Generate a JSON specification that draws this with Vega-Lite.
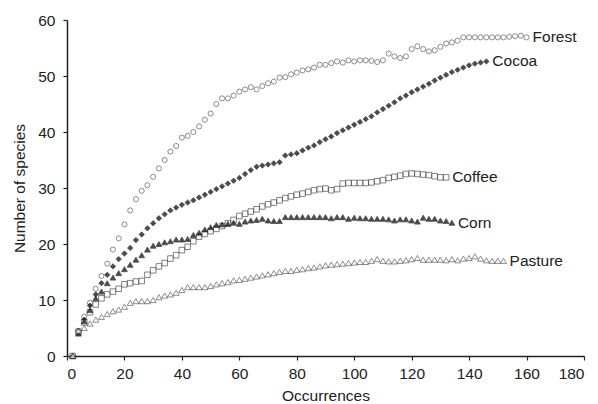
{
  "$schema": "https://vega.github.io/schema/vega-lite/v6.json",
  "width": 517,
  "height": 336,
  "autosize": {"type": "none"},
  "padding": {"left": 67, "top": 20, "right": 14, "bottom": 48},
  "background": "white",
  "config": {
    "view": {"stroke": null},
    "font": "Liberation Sans",
    "axis": {
      "grid": false,
      "domainColor": "#222",
      "domainWidth": 1.5,
      "tickColor": "#222",
      "tickWidth": 1.2,
      "tickSize": 4,
      "labelFont": "Liberation Sans",
      "labelFontSize": 15.5,
      "labelColor": "#222",
      "titleFont": "Liberation Sans",
      "titleFontSize": 15.5,
      "titleFontWeight": "normal",
      "titleColor": "#222"
    }
  },
  "data": {"values": [
    {"s":"Forest","x":2,"y":0},{"s":"Forest","x":4,"y":4.5},{"s":"Forest","x":6,"y":7},{"s":"Forest","x":8,"y":9.5},{"s":"Forest","x":10,"y":12},{"s":"Forest","x":12,"y":14.3},{"s":"Forest","x":14,"y":16.5},{"s":"Forest","x":16,"y":19},{"s":"Forest","x":18,"y":21},{"s":"Forest","x":20,"y":23.5},{"s":"Forest","x":22,"y":26},{"s":"Forest","x":24,"y":28},{"s":"Forest","x":26,"y":29.5},{"s":"Forest","x":28,"y":30.5},{"s":"Forest","x":30,"y":32},{"s":"Forest","x":32,"y":33.5},{"s":"Forest","x":34,"y":35},{"s":"Forest","x":36,"y":36.5},{"s":"Forest","x":38,"y":37.5},{"s":"Forest","x":40,"y":39},{"s":"Forest","x":42,"y":39.3},{"s":"Forest","x":44,"y":40},{"s":"Forest","x":46,"y":41},{"s":"Forest","x":48,"y":42.2},{"s":"Forest","x":50,"y":43.3},{"s":"Forest","x":52,"y":45},{"s":"Forest","x":54,"y":46},{"s":"Forest","x":56,"y":46},{"s":"Forest","x":58,"y":46.5},{"s":"Forest","x":60,"y":47.2},{"s":"Forest","x":62,"y":47.6},{"s":"Forest","x":64,"y":48},{"s":"Forest","x":66,"y":47.6},{"s":"Forest","x":68,"y":48.2},{"s":"Forest","x":70,"y":48.7},{"s":"Forest","x":72,"y":49},{"s":"Forest","x":74,"y":49.7},{"s":"Forest","x":76,"y":49.8},{"s":"Forest","x":78,"y":50.3},{"s":"Forest","x":80,"y":50.6},{"s":"Forest","x":82,"y":51},{"s":"Forest","x":84,"y":51.2},{"s":"Forest","x":86,"y":51.5},{"s":"Forest","x":88,"y":52},{"s":"Forest","x":90,"y":52},{"s":"Forest","x":92,"y":52.3},{"s":"Forest","x":94,"y":52.6},{"s":"Forest","x":96,"y":52.4},{"s":"Forest","x":98,"y":52.8},{"s":"Forest","x":100,"y":52.6},{"s":"Forest","x":102,"y":52.8},{"s":"Forest","x":104,"y":52.8},{"s":"Forest","x":106,"y":52.7},{"s":"Forest","x":108,"y":52.5},{"s":"Forest","x":110,"y":52.8},{"s":"Forest","x":112,"y":54},{"s":"Forest","x":114,"y":53.5},{"s":"Forest","x":116,"y":53.2},{"s":"Forest","x":118,"y":53.5},{"s":"Forest","x":120,"y":54.8},{"s":"Forest","x":122,"y":55.3},{"s":"Forest","x":124,"y":54.8},{"s":"Forest","x":126,"y":54.4},{"s":"Forest","x":128,"y":54.6},{"s":"Forest","x":130,"y":55.2},{"s":"Forest","x":132,"y":55.8},{"s":"Forest","x":134,"y":56},{"s":"Forest","x":136,"y":56.3},{"s":"Forest","x":138,"y":56.9},{"s":"Forest","x":140,"y":56.9},{"s":"Forest","x":142,"y":56.9},{"s":"Forest","x":144,"y":56.9},{"s":"Forest","x":146,"y":56.9},{"s":"Forest","x":148,"y":56.9},{"s":"Forest","x":150,"y":56.9},{"s":"Forest","x":152,"y":56.9},{"s":"Forest","x":154,"y":57},{"s":"Forest","x":156,"y":57.1},{"s":"Forest","x":158,"y":57.2},{"s":"Forest","x":160,"y":56.9},
    {"s":"Cocoa","x":2,"y":0},{"s":"Cocoa","x":4,"y":4.5},{"s":"Cocoa","x":6,"y":6.5},{"s":"Cocoa","x":8,"y":9},{"s":"Cocoa","x":10,"y":11},{"s":"Cocoa","x":12,"y":13},{"s":"Cocoa","x":14,"y":14.5},{"s":"Cocoa","x":16,"y":16},{"s":"Cocoa","x":18,"y":17.3},{"s":"Cocoa","x":20,"y":18.3},{"s":"Cocoa","x":22,"y":19.3},{"s":"Cocoa","x":24,"y":20.7},{"s":"Cocoa","x":26,"y":21.7},{"s":"Cocoa","x":28,"y":22.8},{"s":"Cocoa","x":30,"y":23.7},{"s":"Cocoa","x":32,"y":24.6},{"s":"Cocoa","x":34,"y":25.3},{"s":"Cocoa","x":36,"y":26},{"s":"Cocoa","x":38,"y":26.5},{"s":"Cocoa","x":40,"y":27},{"s":"Cocoa","x":42,"y":27.4},{"s":"Cocoa","x":44,"y":27.8},{"s":"Cocoa","x":46,"y":28.3},{"s":"Cocoa","x":48,"y":28.8},{"s":"Cocoa","x":50,"y":29.3},{"s":"Cocoa","x":52,"y":29.8},{"s":"Cocoa","x":54,"y":30.3},{"s":"Cocoa","x":56,"y":30.8},{"s":"Cocoa","x":58,"y":31.3},{"s":"Cocoa","x":60,"y":31.8},{"s":"Cocoa","x":62,"y":32.5},{"s":"Cocoa","x":64,"y":33.2},{"s":"Cocoa","x":66,"y":33.8},{"s":"Cocoa","x":68,"y":34},{"s":"Cocoa","x":70,"y":34.2},{"s":"Cocoa","x":72,"y":34.4},{"s":"Cocoa","x":74,"y":34.6},{"s":"Cocoa","x":76,"y":35.8},{"s":"Cocoa","x":78,"y":36},{"s":"Cocoa","x":80,"y":36.2},{"s":"Cocoa","x":82,"y":36.7},{"s":"Cocoa","x":84,"y":37.2},{"s":"Cocoa","x":86,"y":37.6},{"s":"Cocoa","x":88,"y":38.2},{"s":"Cocoa","x":90,"y":38.7},{"s":"Cocoa","x":92,"y":39.2},{"s":"Cocoa","x":94,"y":39.8},{"s":"Cocoa","x":96,"y":40.3},{"s":"Cocoa","x":98,"y":40.8},{"s":"Cocoa","x":100,"y":41.3},{"s":"Cocoa","x":102,"y":41.8},{"s":"Cocoa","x":104,"y":42.3},{"s":"Cocoa","x":106,"y":42.8},{"s":"Cocoa","x":108,"y":43.5},{"s":"Cocoa","x":110,"y":44.1},{"s":"Cocoa","x":112,"y":44.7},{"s":"Cocoa","x":114,"y":45.3},{"s":"Cocoa","x":116,"y":46},{"s":"Cocoa","x":118,"y":46.5},{"s":"Cocoa","x":120,"y":47.1},{"s":"Cocoa","x":122,"y":47.6},{"s":"Cocoa","x":124,"y":48.1},{"s":"Cocoa","x":126,"y":48.6},{"s":"Cocoa","x":128,"y":49.2},{"s":"Cocoa","x":130,"y":49.7},{"s":"Cocoa","x":132,"y":50.2},{"s":"Cocoa","x":134,"y":50.7},{"s":"Cocoa","x":136,"y":51.1},{"s":"Cocoa","x":138,"y":51.5},{"s":"Cocoa","x":140,"y":51.9},{"s":"Cocoa","x":142,"y":52.2},{"s":"Cocoa","x":144,"y":52.4},{"s":"Cocoa","x":146,"y":52.6},
    {"s":"Coffee","x":2,"y":0},{"s":"Coffee","x":4,"y":4.3},{"s":"Coffee","x":6,"y":6},{"s":"Coffee","x":8,"y":7.8},{"s":"Coffee","x":10,"y":9.2},{"s":"Coffee","x":12,"y":10.3},{"s":"Coffee","x":14,"y":11},{"s":"Coffee","x":16,"y":11.5},{"s":"Coffee","x":18,"y":12},{"s":"Coffee","x":20,"y":12.8},{"s":"Coffee","x":22,"y":13},{"s":"Coffee","x":24,"y":13.3},{"s":"Coffee","x":26,"y":13.4},{"s":"Coffee","x":28,"y":14.5},{"s":"Coffee","x":30,"y":15.3},{"s":"Coffee","x":32,"y":16},{"s":"Coffee","x":34,"y":16.6},{"s":"Coffee","x":36,"y":17.4},{"s":"Coffee","x":38,"y":18},{"s":"Coffee","x":40,"y":18.9},{"s":"Coffee","x":42,"y":19.5},{"s":"Coffee","x":44,"y":20.5},{"s":"Coffee","x":46,"y":21.3},{"s":"Coffee","x":48,"y":21.8},{"s":"Coffee","x":50,"y":22.3},{"s":"Coffee","x":52,"y":22.7},{"s":"Coffee","x":54,"y":23.2},{"s":"Coffee","x":56,"y":23.7},{"s":"Coffee","x":58,"y":24.3},{"s":"Coffee","x":60,"y":25},{"s":"Coffee","x":62,"y":25.4},{"s":"Coffee","x":64,"y":25.8},{"s":"Coffee","x":66,"y":26.2},{"s":"Coffee","x":68,"y":26.7},{"s":"Coffee","x":70,"y":27.1},{"s":"Coffee","x":72,"y":27.4},{"s":"Coffee","x":74,"y":27.8},{"s":"Coffee","x":76,"y":28.2},{"s":"Coffee","x":78,"y":28.5},{"s":"Coffee","x":80,"y":28.8},{"s":"Coffee","x":82,"y":29},{"s":"Coffee","x":84,"y":29.3},{"s":"Coffee","x":86,"y":29.6},{"s":"Coffee","x":88,"y":29.8},{"s":"Coffee","x":90,"y":29.9},{"s":"Coffee","x":92,"y":29.6},{"s":"Coffee","x":94,"y":29.8},{"s":"Coffee","x":96,"y":30.8},{"s":"Coffee","x":98,"y":30.9},{"s":"Coffee","x":100,"y":30.9},{"s":"Coffee","x":102,"y":30.9},{"s":"Coffee","x":104,"y":30.9},{"s":"Coffee","x":106,"y":31},{"s":"Coffee","x":108,"y":31.2},{"s":"Coffee","x":110,"y":31.4},{"s":"Coffee","x":112,"y":31.8},{"s":"Coffee","x":114,"y":32},{"s":"Coffee","x":116,"y":32.2},{"s":"Coffee","x":118,"y":32.5},{"s":"Coffee","x":120,"y":32.6},{"s":"Coffee","x":122,"y":32.5},{"s":"Coffee","x":124,"y":32.4},{"s":"Coffee","x":126,"y":32.3},{"s":"Coffee","x":128,"y":32.1},{"s":"Coffee","x":130,"y":31.9},{"s":"Coffee","x":132,"y":31.9},
    {"s":"Corn","x":2,"y":0},{"s":"Corn","x":4,"y":4},{"s":"Corn","x":6,"y":6.2},{"s":"Corn","x":8,"y":8.2},{"s":"Corn","x":10,"y":10.3},{"s":"Corn","x":12,"y":11.5},{"s":"Corn","x":14,"y":13},{"s":"Corn","x":16,"y":14},{"s":"Corn","x":18,"y":14.8},{"s":"Corn","x":20,"y":15.5},{"s":"Corn","x":22,"y":16.3},{"s":"Corn","x":24,"y":17.2},{"s":"Corn","x":26,"y":18},{"s":"Corn","x":28,"y":19},{"s":"Corn","x":30,"y":19.7},{"s":"Corn","x":32,"y":20},{"s":"Corn","x":34,"y":20.3},{"s":"Corn","x":36,"y":20.5},{"s":"Corn","x":38,"y":20.8},{"s":"Corn","x":40,"y":20.8},{"s":"Corn","x":42,"y":20.9},{"s":"Corn","x":44,"y":21.6},{"s":"Corn","x":46,"y":22},{"s":"Corn","x":48,"y":22.6},{"s":"Corn","x":50,"y":23},{"s":"Corn","x":52,"y":23.4},{"s":"Corn","x":54,"y":23.5},{"s":"Corn","x":56,"y":23.6},{"s":"Corn","x":58,"y":23.8},{"s":"Corn","x":60,"y":23.6},{"s":"Corn","x":62,"y":24},{"s":"Corn","x":64,"y":24.2},{"s":"Corn","x":66,"y":24.3},{"s":"Corn","x":68,"y":24.5},{"s":"Corn","x":70,"y":24.2},{"s":"Corn","x":72,"y":24.1},{"s":"Corn","x":74,"y":24.1},{"s":"Corn","x":76,"y":24.8},{"s":"Corn","x":78,"y":24.8},{"s":"Corn","x":80,"y":24.8},{"s":"Corn","x":82,"y":24.8},{"s":"Corn","x":84,"y":24.8},{"s":"Corn","x":86,"y":24.8},{"s":"Corn","x":88,"y":24.8},{"s":"Corn","x":90,"y":24.8},{"s":"Corn","x":92,"y":24.6},{"s":"Corn","x":94,"y":24.8},{"s":"Corn","x":96,"y":24.8},{"s":"Corn","x":98,"y":24.5},{"s":"Corn","x":100,"y":24.7},{"s":"Corn","x":102,"y":24.6},{"s":"Corn","x":104,"y":24.6},{"s":"Corn","x":106,"y":24.5},{"s":"Corn","x":108,"y":24.5},{"s":"Corn","x":110,"y":24.5},{"s":"Corn","x":112,"y":24.4},{"s":"Corn","x":114,"y":24.2},{"s":"Corn","x":116,"y":24.4},{"s":"Corn","x":118,"y":24.4},{"s":"Corn","x":120,"y":24.2},{"s":"Corn","x":122,"y":24},{"s":"Corn","x":124,"y":24.7},{"s":"Corn","x":126,"y":24.5},{"s":"Corn","x":128,"y":24.5},{"s":"Corn","x":130,"y":24.2},{"s":"Corn","x":132,"y":24.1},{"s":"Corn","x":134,"y":23.8},
    {"s":"Pasture","x":2,"y":0},{"s":"Pasture","x":4,"y":4.5},{"s":"Pasture","x":6,"y":5},{"s":"Pasture","x":8,"y":5.8},{"s":"Pasture","x":10,"y":6.5},{"s":"Pasture","x":12,"y":7},{"s":"Pasture","x":14,"y":7.5},{"s":"Pasture","x":16,"y":8},{"s":"Pasture","x":18,"y":8.3},{"s":"Pasture","x":20,"y":8.8},{"s":"Pasture","x":22,"y":9.5},{"s":"Pasture","x":24,"y":9.8},{"s":"Pasture","x":26,"y":9.8},{"s":"Pasture","x":28,"y":9.8},{"s":"Pasture","x":30,"y":10},{"s":"Pasture","x":32,"y":10.5},{"s":"Pasture","x":34,"y":10.8},{"s":"Pasture","x":36,"y":11},{"s":"Pasture","x":38,"y":11.3},{"s":"Pasture","x":40,"y":11.8},{"s":"Pasture","x":42,"y":12.3},{"s":"Pasture","x":44,"y":12.3},{"s":"Pasture","x":46,"y":12.3},{"s":"Pasture","x":48,"y":12.3},{"s":"Pasture","x":50,"y":12.5},{"s":"Pasture","x":52,"y":12.8},{"s":"Pasture","x":54,"y":13},{"s":"Pasture","x":56,"y":13.2},{"s":"Pasture","x":58,"y":13.5},{"s":"Pasture","x":60,"y":13.6},{"s":"Pasture","x":62,"y":13.8},{"s":"Pasture","x":64,"y":14},{"s":"Pasture","x":66,"y":14.2},{"s":"Pasture","x":68,"y":14.4},{"s":"Pasture","x":70,"y":14.6},{"s":"Pasture","x":72,"y":14.8},{"s":"Pasture","x":74,"y":15},{"s":"Pasture","x":76,"y":15.2},{"s":"Pasture","x":78,"y":15.2},{"s":"Pasture","x":80,"y":15.4},{"s":"Pasture","x":82,"y":15.5},{"s":"Pasture","x":84,"y":15.7},{"s":"Pasture","x":86,"y":15.8},{"s":"Pasture","x":88,"y":16},{"s":"Pasture","x":90,"y":16.2},{"s":"Pasture","x":92,"y":16.3},{"s":"Pasture","x":94,"y":16.4},{"s":"Pasture","x":96,"y":16.5},{"s":"Pasture","x":98,"y":16.6},{"s":"Pasture","x":100,"y":16.7},{"s":"Pasture","x":102,"y":16.8},{"s":"Pasture","x":104,"y":16.8},{"s":"Pasture","x":106,"y":17},{"s":"Pasture","x":108,"y":17.3},{"s":"Pasture","x":110,"y":17},{"s":"Pasture","x":112,"y":16.9},{"s":"Pasture","x":114,"y":16.9},{"s":"Pasture","x":116,"y":17},{"s":"Pasture","x":118,"y":17.1},{"s":"Pasture","x":120,"y":17.3},{"s":"Pasture","x":122,"y":17.5},{"s":"Pasture","x":124,"y":17.2},{"s":"Pasture","x":126,"y":17.2},{"s":"Pasture","x":128,"y":17.2},{"s":"Pasture","x":130,"y":17.2},{"s":"Pasture","x":132,"y":17.1},{"s":"Pasture","x":134,"y":17.3},{"s":"Pasture","x":136,"y":17.1},{"s":"Pasture","x":138,"y":17.4},{"s":"Pasture","x":140,"y":17.5},{"s":"Pasture","x":142,"y":17.8},{"s":"Pasture","x":144,"y":17.4},{"s":"Pasture","x":146,"y":17.1},{"s":"Pasture","x":148,"y":17},{"s":"Pasture","x":150,"y":17},{"s":"Pasture","x":152,"y":17}
  ]},
  "encoding": {
    "x": {"field": "x", "type": "quantitative", "scale": {"domain": [0, 180]},
          "axis": {"title": "Occurrences", "values": [0,20,40,60,80,100,120,140,160,180], "labelPadding": 6, "titleBaseline": "alphabetic", "titleY": 44}},
    "y": {"field": "y", "type": "quantitative", "scale": {"domain": [0, 60]},
          "axis": {"title": "Number of species", "values": [0,10,20,30,40,50,60], "labelPadding": 8, "titleBaseline": "alphabetic", "titleX": -43}}
  },
  "layer": [
    {
      "mark": {"type": "point", "filled": true, "strokeWidth": 0.8},
      "encoding": {
        "shape": {"field": "s", "type": "nominal",
                  "scale": {"domain": ["Forest","Cocoa","Coffee","Corn","Pasture"], "range": ["circle","diamond","square","triangle-up","triangle-up"]}, "legend": null},
        "fill": {"field": "s", "type": "nominal",
                 "scale": {"domain": ["Forest","Cocoa","Coffee","Corn","Pasture"], "range": ["#ffffff","#000000","#ffffff","#000000","#ffffff"]}, "legend": null},
        "stroke": {"field": "s", "type": "nominal",
                 "scale": {"domain": ["Forest","Cocoa","Coffee","Corn","Pasture"], "range": ["#333333","#000000","#222222","#000000","#333333"]}, "legend": null},
        "size": {"field": "s", "type": "nominal",
                 "scale": {"domain": ["Forest","Cocoa","Coffee","Corn","Pasture"], "range": [26, 36, 45, 40, 38]}, "legend": null}
      }
    },
    {
      "transform": [
        {"joinaggregate": [{"op": "max", "field": "x", "as": "mx"}], "groupby": ["s"]},
        {"filter": "datum.x == datum.mx"}
      ],
      "mark": {"type": "text", "align": "left", "baseline": "middle", "dx": 6, "fontSize": 15.5, "font": "Liberation Sans", "color": "#222"},
      "encoding": {"text": {"field": "s"}}
    }
  ]
}
